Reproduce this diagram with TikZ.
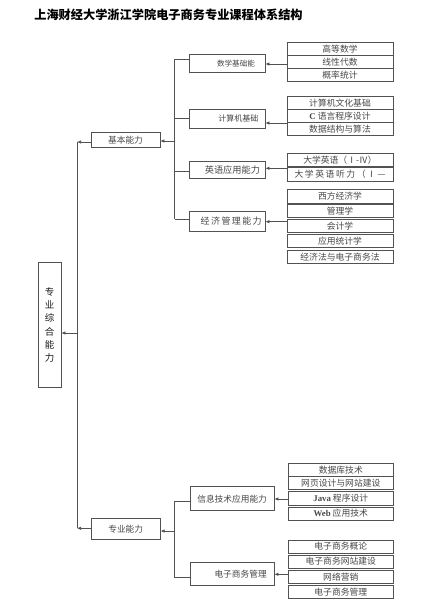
\documentclass[tikz,border=0pt]{standalone}
\usepackage{fontspec}
\setmainfont{Noto Sans CJK SC}
\newfontfamily\lat{Liberation Serif}
\usetikzlibrary{arrows.meta}
\newcommand\myks{\kern1.4pt}
\tikzset{
  ln/.style={draw=black!68, line width=0.7pt},
  arr/.style={ln, -{Latex[length=4pt,width=3.4pt]}},
  box/.style={draw=black!68, line width=0.7pt, inner sep=0pt, text=black!72,
    font=\fontsize{8.7}{10}\selectfont},
  rbox/.style={box, minimum width=106pt, minimum height=13.3pt, font=\fontsize{8.8}{10}\selectfont},
  rboxb/.style={box, minimum width=105pt, minimum height=13.3pt, font=\fontsize{8.8}{10}\selectfont},
}
\begin{document}
\begin{tikzpicture}[x=1pt,y=-1pt]
\useasboundingbox (0,0) rectangle (425,600);
% title
\node[font=\fontsize{12.2}{14}\selectfont\bfseries, text=black] (title) at (168.5,15) {上海财经大学浙江学院电子商务专业课程体系结构};
% main box
\node[box, minimum width=23pt, minimum height=125pt, align=center, text=black!90,
  font=\fontsize{9.5}{13.3}\selectfont] (main) at (49.5,325) {专\\业\\综\\合\\能\\力};
% level 1
\node[box, minimum width=69pt, minimum height=15pt] (jb) at (125.5,140) {基本能力};
\node[box, minimum width=69pt, minimum height=21pt] (zy) at (125.7,528.8) {专业能力};
% level 2
\node[box, minimum height=18.7pt, text width=56pt, inner xsep=10pt, align=right,
  font=\fontsize{7.6}{9}\selectfont] (sx) at (227,63.3) {数学基础能};
\node[box, minimum height=19pt, text width=62.6pt, inner xsep=6.7pt, align=right,
  font=\fontsize{8}{9}\selectfont] (jsj) at (227,118.8) {计算机基础};
\node[box, minimum height=17pt, text width=66pt, inner xsep=5pt, align=right,
  font=\fontsize{9.2}{10}\selectfont] (yy) at (227,169.8) {英语应用能力};
\node[box, minimum height=20.3pt, text width=69.4pt, inner xsep=3.3pt, align=right,
  font=\fontsize{9}{11}\selectfont] (jj) at (227,221.2) {经\myks 济\myks 管\myks 理\myks 能\myks 力};
\node[box, minimum height=24pt, text width=69.4pt, inner xsep=7.3pt, align=right] (xx) at (232,498.7) {信息技术应用能力};
\node[box, minimum height=22.7pt, text width=69.4pt, inner xsep=7.3pt, align=right] (dz) at (232,573.7) {电子商务管理};
% right boxes: math
\node[rbox] (m1) at (340,49) {高等数学};
\node[rbox] (m2) at (340,62) {线性代数};
\node[rbox] (m3) at (340,75) {概率统计};
% computer
\node[rbox, minimum height=13pt] (c1) at (340,103.2) {计算机文化基础};
\node[rbox, minimum height=13pt] (c2) at (340,116.2) {{\lat\bfseries C} 语言程序设计};
\node[rbox, minimum height=13pt] (c3) at (340,129.2) {数据结构与算法};
% english
\node[rbox, minimum height=13.6pt] (e1) at (340,159.7) {大学英语（Ⅰ-Ⅳ）};
\node[rbox, minimum height=13.6pt] (e2) at (340,174.3) {\hbox to 91pt{大\hfil 学\hfil 英\hfil 语\hfil 听\hfil 力\hfil （\hfil Ⅰ\hfil —}};
% economics
\node[rbox] (k1) at (340,196.2) {西方经济学};
\node[rbox] (k2) at (340,211.1) {管理学};
\node[rbox] (k3) at (340,226) {会计学};
\node[rbox] (k4) at (340,241.1) {应用统计学};
\node[rbox] (k5) at (340,257) {经济法与电子商务法};
% info tech
\node[rboxb] (i1) at (340.8,469.8) {数据库技术};
\node[rboxb] (i2) at (340.8,483.1) {网页设计与网站建设};
\node[rboxb] (i3) at (340.8,498.3) {{\lat\bfseries Java} 程序设计};
\node[rboxb] (i4) at (340.8,513.5) {{\lat\bfseries Web} 应用技术};
% e-commerce
\node[rboxb] (d1) at (340.8,546.5) {电子商务概论};
\node[rboxb] (d2) at (340.8,561.5) {电子商务网站建设};
\node[rboxb] (d3) at (340.8,577) {网络营销};
\node[rboxb] (d4) at (340.8,591.7) {电子商务管理};
% coordinates
\coordinate (t1) at (174.7,59.3);
\coordinate (t2) at (174.7,118);
\coordinate (t3) at (174.7,171);
\coordinate (t4) at (174.7,219.3);
\coordinate (tj) at (174.7,141);
\coordinate (b1) at (174.7,501);
\coordinate (b2) at (174.7,577.7);
\coordinate (bz) at (174.7,531);
\coordinate (l1) at (77,142);
\coordinate (l2) at (77,528.3);
\coordinate (lm) at (77,333);
\coordinate (g1) at (287,64);
\coordinate (g2) at (287,123);
\coordinate (g3) at (287,168.3);
\coordinate (g4) at (287,221.7);
\coordinate (g5) at (288.3,499);
\coordinate (g6) at (288.3,574.3);
% connectors
\draw[ln] (t1) -- (t4);
\draw[ln] (t1) -- (t1 -| sx.west);
\draw[ln] (t2) -- (t2 -| jsj.west);
\draw[ln] (t3) -- (t3 -| yy.west);
\draw[ln] (t4) -- (t4 -| jj.west);
\draw[arr] (tj) -- (tj -| jb.east);
\draw[ln] (b1) -- (b2);
\draw[ln] (b1) -- (b1 -| xx.west);
\draw[ln] (b2) -- (b2 -| dz.west);
\draw[arr] (bz) -- (bz -| zy.east);
\draw[arr] (l1 -| jb.west) -- (l1);
\draw[arr] (l2 -| zy.west) -- (l2);
\draw[ln] (l1) -- (l2);
\draw[arr] (lm) -- (lm -| main.east);
\draw[arr] (g1) -- (g1 -| sx.east);
\draw[arr] (g2) -- (g2 -| jsj.east);
\draw[arr] (g3) -- (g3 -| yy.east);
\draw[arr] (g4) -- (g4 -| jj.east);
\draw[arr] (g5) -- (g5 -| xx.east);
\draw[arr] (g6) -- (g6 -| dz.east);
\end{tikzpicture}
\end{document}
